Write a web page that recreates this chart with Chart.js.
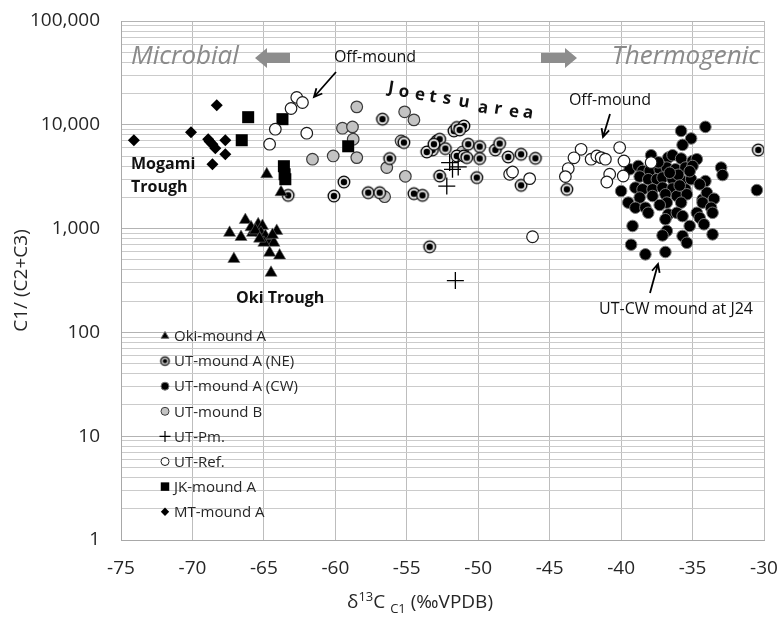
<!DOCTYPE html>
<html>
<head>
<meta charset="utf-8">
<script src="https://cdn.jsdelivr.net/npm/chart.js@4.4.0/dist/chart.umd.min.js"></script>
<style>
  html, body { margin: 0; padding: 0; background: #fff; }
</style>
</head>
<body>
<canvas id="isoChart" width="778" height="617"></canvas>
<script>
// [d13C, C1/(C2+C3)]
const okiMoundA = [
  [-64.8, 3340], [-63.8, 2240], [-66.3, 1210], [-67.4, 910], [-66.6, 830], [-65.4, 1100],
  [-65.1, 1060], [-65.2, 910], [-64.1, 950], [-64.6, 760], [-64.3, 730], [-67.1, 510],
  [-64.6, 585], [-63.9, 550], [-64.5, 375], [-65.8, 910], [-64.9, 850], [-65.0, 730],
  [-65.9, 1030], [-65.6, 960], [-64.4, 870], [-65.3, 800]
];
const utMoundANE = [
  [-56.7, 11330], [-60.1, 2060], [-59.4, 2810], [-57.7, 2220], [-56.9, 2220], [-54.5, 2170],
  [-53.9, 2090], [-56.2, 4730], [-55.2, 6750], [-53.4, 668], [-63.3, 2090], [-51.7, 8730],
  [-51.5, 9420], [-51.0, 9750], [-51.3, 8930], [-52.9, 6990], [-52.7, 7260], [-53.2, 5730],
  [-52.3, 5900], [-51.5, 5010], [-51.0, 5010], [-50.8, 4830], [-50.7, 6500], [-49.9, 6170],
  [-49.9, 4730], [-48.8, 5730], [-48.5, 6600], [-47.9, 4900], [-47.0, 5200], [-46.0, 4760],
  [-52.7, 3210], [-50.1, 3100], [-47.0, 2610], [-43.8, 2390], [-30.4, 5730], [-53.6, 5470],
  [-53.1, 6500]
];
const utMoundACW = [
  [-35.8, 8730], [-34.1, 9550], [-35.1, 7380], [-35.7, 6400], [-37.9, 5090], [-36.7, 4830],
  [-36.4, 5090], [-35.8, 4730], [-35.0, 4480], [-34.7, 4660], [-33.0, 3870], [-32.9, 3280],
  [-39.4, 3730], [-38.8, 4010], [-38.5, 3590], [-38.0, 3590], [-37.3, 3730], [-36.8, 3870],
  [-36.2, 3730], [-35.5, 3870], [-35.0, 4010], [-38.7, 3170], [-38.1, 2990], [-37.5, 2990],
  [-37.1, 3100], [-36.4, 2990], [-35.7, 2870], [-35.1, 2990], [-34.1, 2870], [-40.0, 2300],
  [-39.0, 2480], [-38.5, 2390], [-37.8, 2390], [-37.1, 2480], [-36.4, 2430], [-35.5, 2390],
  [-30.5, 2350], [-38.7, 1990], [-37.8, 2060], [-36.9, 2140], [-36.1, 2060], [-35.4, 2140],
  [-34.3, 1910], [-34.0, 2220], [-33.5, 1940], [-39.5, 1780], [-39.0, 1590], [-38.3, 1590],
  [-38.1, 1420], [-36.8, 1780], [-35.8, 1780], [-34.3, 1780], [-33.7, 1590], [-33.6, 1420],
  [-36.7, 1370], [-36.1, 1420], [-35.7, 1320], [-34.7, 1420], [-34.5, 1270], [-36.9, 1230],
  [-34.2, 1100], [-35.2, 1060], [-39.2, 1060], [-36.8, 950], [-37.1, 860], [-35.7, 850],
  [-35.4, 730], [-33.6, 880], [-39.3, 700], [-38.3, 565], [-36.9, 595], [-37.4, 4350],
  [-35.2, 3570], [-34.5, 2670], [-37.3, 1690], [-36.0, 3300], [-36.6, 3450], [-35.9, 2600]
];
const utMoundB = [
  [-58.5, 14890], [-59.5, 9270], [-58.8, 9540], [-58.75, 7260], [-61.6, 4660], [-60.15, 5010],
  [-58.5, 4830], [-55.15, 13330], [-54.5, 11150], [-55.4, 6990], [-56.4, 3870], [-55.1, 3190],
  [-56.55, 2030], [-51.1, 5470]
];
const utPm = [[-52.0, 4330], [-51.8, 3725], [-51.4, 3925], [-52.2, 2570], [-51.6, 316]];
const utRef = [
  [-62.7, 18350], [-62.3, 16400], [-63.1, 14350], [-64.2, 9070], [-62.0, 8300], [-64.6, 6500],
  [-47.8, 3340], [-47.6, 3510], [-46.4, 3030], [-46.2, 835], [-42.8, 5810], [-43.3, 4810],
  [-43.7, 3790], [-43.9, 3170], [-42.1, 4660], [-41.7, 5010], [-41.4, 4830], [-41.1, 4660],
  [-40.8, 3340], [-41.0, 2810], [-40.1, 6040], [-39.8, 4480], [-39.85, 3210], [-37.9, 4330]
];
const jkMoundA = [[-66.1, 11840], [-63.7, 11330], [-66.55, 7100], [-63.6, 3990], [-63.55, 3340], [-63.5, 2990], [-59.1, 6210]];
const mtMoundA = [
  [-74.1, 7100], [-70.1, 8490], [-68.3, 15450], [-68.9, 7260], [-68.6, 6500], [-68.4, 5940],
  [-67.7, 7100], [-67.7, 5200], [-68.6, 4170], [-68.8, 6900]
];

const xTicks = { min: -75, max: -30, step: 5 };
const yMajor = [1, 10, 100, 1000, 10000, 100000];
const yMinorSteps = [2, 3, 4, 5, 6, 7, 8, 9];

const FONT = "'Open Sans', 'Noto Sans', sans-serif";
const TEXT = '#262626';

function ringDot(outer, inner) {
    const s = Math.ceil(outer * 2 + 4);
    const c = document.createElement('canvas');
    c.width = s; c.height = s;
    const g = c.getContext('2d');
    g.beginPath();
    g.arc(s / 2, s / 2, outer, 0, Math.PI * 2);
    g.fillStyle = '#e4e4e4';
    g.fill();
    g.lineWidth = 1.3;
    g.strokeStyle = '#000';
    g.stroke();
    g.beginPath();
    g.arc(s / 2, s / 2, inner, 0, Math.PI * 2);
    g.fillStyle = '#000';
    g.fill();
    return c;
}

const toXY = arr => arr.map(p => ({ x: p[0], y: p[1] }));

// datasets in legend order; `order` controls stacking (lower = on top)
const datasets = [
    { label: 'Oki-mound A', data: toXY(okiMoundA), pointStyle: 'triangle', pointRadius: 7,
      backgroundColor: '#000', borderColor: '#6a6a6a', borderWidth: 0.6, order: 2, legendRadius: 4.5 },
    { label: 'UT-mound A (NE)', data: toXY(utMoundANE), pointStyle: ringDot(5.8, 3.2), pointRadius: 6,
      backgroundColor: '#000', borderColor: '#000', borderWidth: 1, order: 5, legendStyle: ringDot(4.2, 2.3) },
    { label: 'UT-mound A (CW)', data: toXY(utMoundACW), pointStyle: 'circle', pointRadius: 5.8,
      backgroundColor: '#000', borderColor: '#7a7a7a', borderWidth: 1, order: 7, legendRadius: 4 },
    { label: 'UT-mound B', data: toXY(utMoundB), pointStyle: 'circle', pointRadius: 5.8,
      backgroundColor: '#c3c3c3', borderColor: '#3a3a3a', borderWidth: 1.2, order: 6, legendRadius: 4 },
    { label: 'UT-Pm.', data: toXY(utPm), pointStyle: 'cross', pointRadius: 8.5,
      backgroundColor: '#000', borderColor: '#000', borderWidth: 1.3, order: 0, legendRadius: 5.5 },
    { label: 'UT-Ref.', data: toXY(utRef), pointStyle: 'circle', pointRadius: 5.8,
      backgroundColor: '#fff', borderColor: '#1a1a1a', borderWidth: 1.2, order: 1, legendRadius: 4 },
    { label: 'JK-mound A', data: toXY(jkMoundA), pointStyle: 'rect', pointRadius: 8.5,
      backgroundColor: '#000', borderColor: '#000', borderWidth: 0, order: 3, legendRadius: 6 },
    { label: 'MT-mound A', data: toXY(mtMoundA), pointStyle: 'rectRot', pointRadius: 6,
      backgroundColor: '#000', borderColor: '#000', borderWidth: 0, order: 4, legendRadius: 4.2 }
];
datasets.forEach(d => { d.pointHoverRadius = d.pointRadius; d.showLine = false; });

function lineArrow(c, x1, y1, x2, y2) {
    const a = Math.atan2(y2 - y1, x2 - x1);
    c.save();
    c.strokeStyle = '#000';
    c.lineWidth = 1.8;
    c.beginPath();
    c.moveTo(x1, y1);
    c.lineTo(x2, y2);
    c.moveTo(x2 - 9 * Math.cos(a - 0.45), y2 - 9 * Math.sin(a - 0.45));
    c.lineTo(x2, y2);
    c.lineTo(x2 - 9 * Math.cos(a + 0.45), y2 - 9 * Math.sin(a + 0.45));
    c.stroke();
    c.restore();
}

function blockArrow(c, tail, tip, y) {
    const dir = Math.sign(tip - tail);
    const neck = tip - dir * 12;
    c.save();
    c.fillStyle = '#8d8d8d';
    c.beginPath();
    c.moveTo(tail, y - 5);
    c.lineTo(neck, y - 5);
    c.lineTo(neck, y - 10);
    c.lineTo(tip, y);
    c.lineTo(neck, y + 10);
    c.lineTo(neck, y + 5);
    c.lineTo(tail, y + 5);
    c.closePath();
    c.fill();
    c.restore();
}

const annotations = {
    id: 'annotations',
    afterDatasetsDraw(chart) {
        const c = chart.ctx;
        c.save();
        // microbial / thermogenic headers
        c.fillStyle = '#8a8a8a';
        c.font = 'italic 26px ' + FONT;
        c.textBaseline = 'middle';
        c.textAlign = 'left';
        c.fillText('Microbial', 131, 57);
        c.textAlign = 'right';
        c.fillText('Thermogenic', 760, 57);
        blockArrow(c, 290, 255, 58);
        blockArrow(c, 541, 577, 58);

        c.fillStyle = '#111';
        c.font = '16px ' + FONT;
        c.textAlign = 'center';
        c.fillText('Off-mound', 375, 57);
        c.fillText('Off-mound', 610, 100);
        c.fillText('UT-CW mound at J24', 676, 309);
        lineArrow(c, 336, 72, 314, 97);
        lineArrow(c, 610, 114, 603, 137);
        lineArrow(c, 650, 293, 658, 264);

        c.font = 'bold 16px ' + FONT;
        c.textAlign = 'left';
        c.fillText('Mogami', 131, 164);
        c.fillText('Trough', 131, 187);
        c.fillText('Oki Trough', 236, 298);

        // "Joetsu area", spaced letters on a slant
        const letters = [['J', 391, 88], ['o', 404, 92], ['e', 420, 95], ['t', 433, 97], ['s', 447, 99],
                         ['u', 464, 102], ['a', 483, 108], ['r', 498, 109], ['e', 514, 112], ['a', 528, 113]];
        c.font = 'bold 17px ' + FONT;
        c.textAlign = 'center';
        letters.forEach(([ch, x, y]) => {
            c.save();
            c.translate(x, y);
            c.rotate(0.16);
            c.fillText(ch, 0, 0);
            c.restore();
        });

        // legend inside plot
        c.font = '15px ' + FONT;
        c.fillStyle = TEXT;
        chart.data.datasets.forEach((d, i) => {
            const y = 336 + i * 25.1;
            c.save();
            c.fillStyle = d.backgroundColor;
            c.strokeStyle = d.borderColor;
            c.lineWidth = d.label === 'UT-Pm.' ? 1.2 : 1;
            Chart.helpers.drawPoint(c, {
                pointStyle: d.legendStyle || d.pointStyle,
                radius: d.legendRadius || 4,
                rotation: 0,
                borderWidth: d.borderWidth
            }, 165, y);
            c.restore();
            c.fillStyle = TEXT;
            c.textAlign = 'left';
            c.fillText(d.label, 174, y + 1);
        });
        c.restore();
    },
    afterDraw(chart) {
        const c = chart.ctx;
        const area = chart.chartArea;
        c.save();
        c.fillStyle = TEXT;
        c.textBaseline = 'middle';
        // y title
        c.font = '19px ' + FONT;
        c.save();
        c.translate(22, (area.top + area.bottom) / 2);
        c.rotate(-Math.PI / 2);
        c.textAlign = 'center';
        c.fillText('C1/ (C2+C3)', 0, 0);
        c.restore();
        // x title: δ13C C1 (‰VPDB) with super/subscript
        const parts = [
            { t: '\u03B4', f: '19px ', dy: 0 },
            { t: '13', f: '13px ', dy: -6 },
            { t: 'C ', f: '19px ', dy: 0 },
            { t: 'C1', f: '13px ', dy: 6 },
            { t: ' (\u2030VPDB)', f: '19px ', dy: 0 }
        ];
        let w = 0;
        parts.forEach(p => { c.font = p.f + FONT; p.w = c.measureText(p.t).width; w += p.w; });
        let x = 420 - w / 2;
        c.textAlign = 'left';
        parts.forEach(p => {
            c.font = p.f + FONT;
            c.fillText(p.t, x, 603 + p.dy);
            x += p.w;
        });
        c.restore();
    }
};

function createIsotopeChart() {
    const ctx = document.getElementById('isoChart');
    if (!ctx) return;

    const yGrid = [];
    yMajor.forEach((d, i) => {
        yGrid.push(d);
        if (i < yMajor.length - 1) yMinorSteps.forEach(m => yGrid.push(d * m));
    });

    new Chart(ctx, {
        type: 'scatter',
        data: { datasets: datasets },
        options: {
            responsive: false,
            animation: false,
            events: [],
            layout: { padding: { top: 21, right: 14, left: 0, bottom: 0 } },
            plugins: {
                legend: { display: false },
                tooltip: { enabled: false }
            },
            scales: {
                x: {
                    type: 'linear',
                    min: xTicks.min,
                    max: xTicks.max,
                    ticks: {
                        stepSize: xTicks.step,
                        padding: 17,
                        color: TEXT,
                        font: { family: FONT, size: 19 }
                    },
                    grid: { color: '#bdbdbd', drawTicks: false },
                    border: { color: '#a8a8a8' },
                    afterFit(scale) {
                        scale.height = 77;
                        scale.paddingLeft = 0;
                        scale.paddingRight = 0;
                    }
                },
                y: {
                    type: 'logarithmic',
                    min: 1,
                    max: 100000,
                    afterBuildTicks(scale) {
                        scale.ticks = yGrid.map(v => ({ value: v, major: yMajor.includes(v) }));
                    },
                    ticks: {
                        autoSkip: false,
                        padding: 21,
                        color: TEXT,
                        font: { family: FONT, size: 19 },
                        callback: v => yMajor.includes(v) ? v.toLocaleString('en-US') : ''
                    },
                    grid: {
                        drawTicks: false,
                        color: c => (c.tick && yMajor.includes(c.tick.value)) ? '#b3b3b3' : '#cbcbcb'
                    },
                    border: { color: '#a8a8a8' },
                    afterFit(scale) {
                        scale.width = 121;
                        scale.paddingTop = 0;
                        scale.paddingBottom = 0;
                    }
                }
            }
        },
        plugins: [annotations]
    });
}

createIsotopeChart();
</script>
</body>
</html>
